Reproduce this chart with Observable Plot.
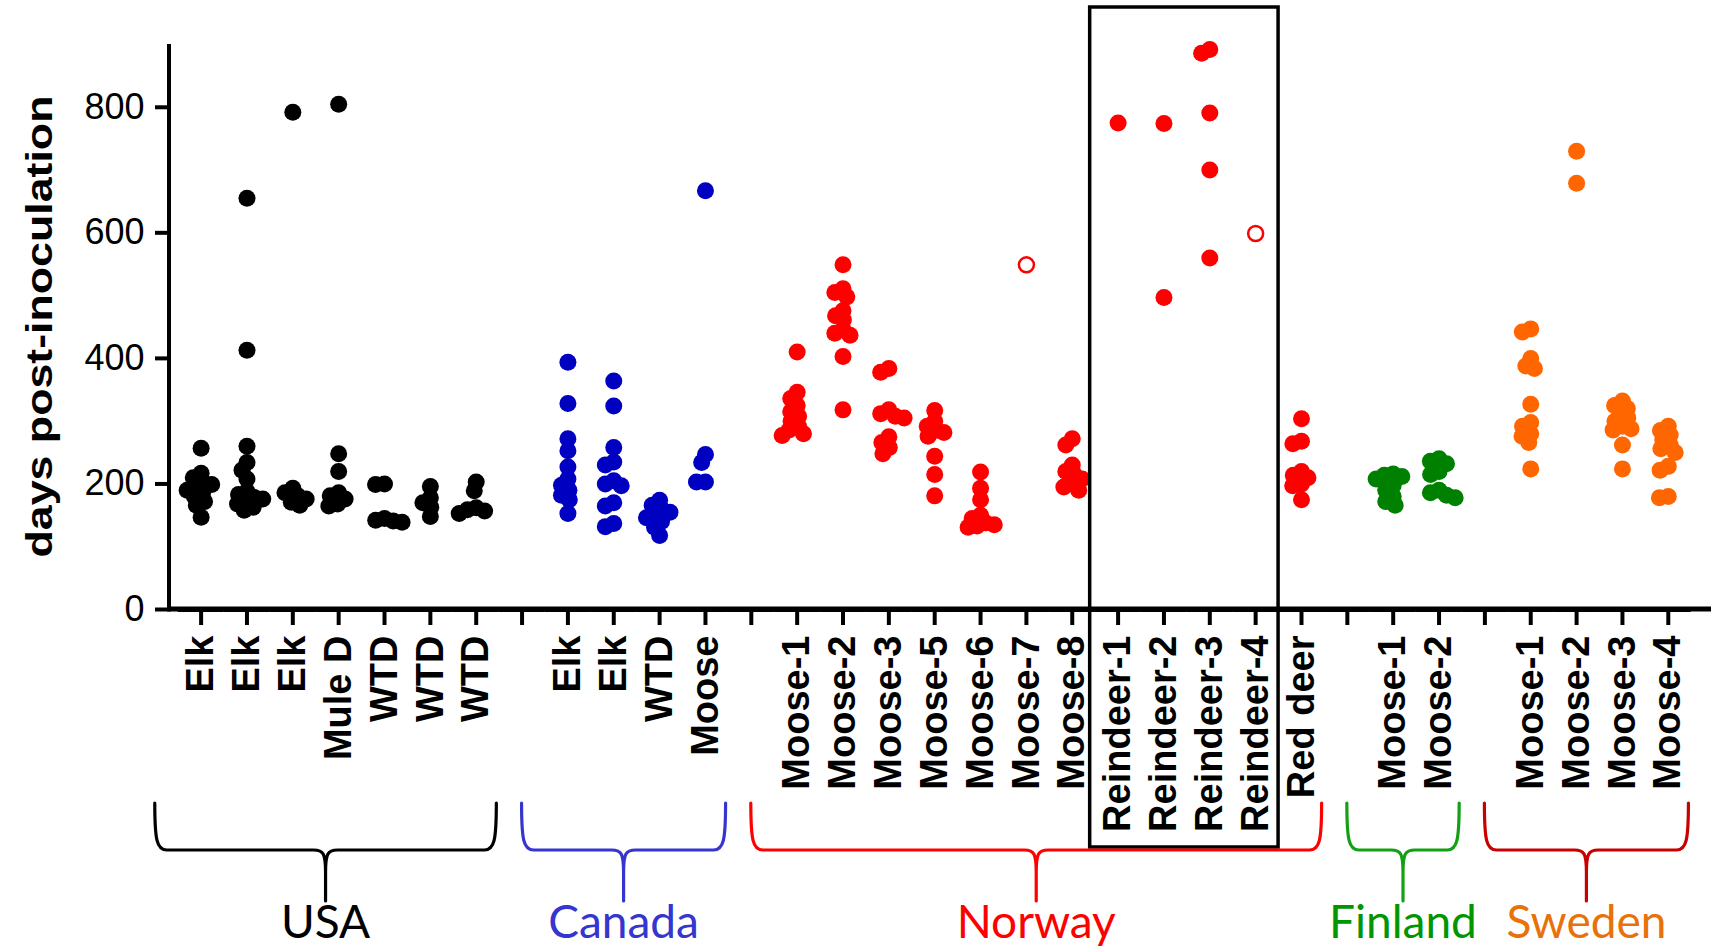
<!DOCTYPE html>
<html><head><meta charset="utf-8">
<script src="https://cdn.jsdelivr.net/npm/d3@7"></script>
<script src="https://cdn.jsdelivr.net/npm/@observablehq/plot@0.6"></script>
<style>
html,body{margin:0;padding:0;background:#fff;}
#chart svg{display:block;overflow:visible;}
#chart g[aria-label^="fx-axis"] text{font-weight:bold;font-size:38px;}
#chart g[aria-label^="y-axis"] text{font-size:36px;}
#chart g[aria-label^="fx-axis"] path, #chart g[aria-label^="fx-axis"] line,
#chart g[aria-label^="y-axis"] path, #chart g[aria-label^="y-axis"] line{stroke-width:4px;stroke:#000;}
</style></head><body><div id="chart"></div>
<script>
// ---------- data ----------
const countries = ["USA", "Canada", "Norway", "Finland", "Sweden"];

const usaLabels = ["Elk", "Elk", "Elk", "Mule D", "WTD", "WTD", "WTD"];
const usaValues = [
  [257, 217, 210, 203, 199, 195, 190, 186, 180, 172, 166, 147],
  [655, 413, 260, 234, 222, 208, 188, 183, 179, 176, 172, 168, 163, 158],
  [792, 193, 186, 181, 176, 171, 166],
  [805, 248, 220, 186, 181, 176, 168, 165],
  [200, 199, 145, 142, 141, 139],
  [196, 178, 170, 163, 148],
  [203, 189, 162, 159, 157, 153]
];

const canadaLabels = ["Elk", "Elk", "WTD", "Moose"];
const canadaValues = [
  [394, 328, 272, 253, 227, 208, 198, 190, 182, 175, 153],
  [364, 324, 258, 235, 230, 205, 200, 197, 170, 165, 137, 132],
  [174, 166, 160, 155, 150, 146, 140, 131, 118],
  [667, 247, 234, 203, 203]
];

const norwayLabels = ["Moose-1", "Moose-2", "Moose-3", "Moose-5", "Moose-6", "Moose-7", "Moose-8",
  "Reindeer-1", "Reindeer-2", "Reindeer-3", "Reindeer-4", "Red deer"];
const norwayValues = [
  [410, 346, 336, 325, 315, 308, 300, 292, 286, 280, 277],
  [549, 511, 505, 498, 476, 468, 461, 446, 440, 437, 403, 318],
  [384, 378, 318, 312, 308, 305, 275, 266, 258, 248],
  [317, 300, 292, 285, 282, 276, 244, 215, 181],
  [219, 193, 175, 150, 145, 138, 135, 133, 131],
  [549],
  [272, 262, 230, 220, 215, 208, 200, 195, 190],
  [775],
  [774, 497],
  [892, 886, 791, 700, 560],
  [599],
  [304, 268, 264, 220, 214, 210, 200, 197, 175]
];
// categories whose single animal is drawn as an open circle
const norwayOpen = ["Moose-7", "Reindeer-4"];
// categories framed by the black box
const boxedLabels = ["Reindeer-1", "Reindeer-2", "Reindeer-3", "Reindeer-4"];

const finlandLabels = ["Moose-1", "Moose-2"];
const finlandValues = [
  [216, 214, 212, 208, 198, 190, 180, 172, 166],
  [240, 236, 232, 220, 215, 190, 186, 182, 178]
];

const swedenLabels = ["Moose-1", "Moose-2", "Moose-3", "Moose-4"];
const swedenValues = [
  [447, 442, 400, 388, 384, 327, 298, 292, 280, 276, 266, 224],
  [730, 679],
  [332, 325, 320, 312, 305, 300, 292, 288, 286, 262, 224],
  [292, 285, 278, 270, 262, 256, 250, 228, 222, 180, 178]
];

const yTicks = [0, 200, 400, 600, 800];
const yLabel = "days post-inoculation";

// ---------- styles ----------
const dotColor = {USA: "#000000", Canada: "#0000C0", Norway: "#FF0000", Finland: "#008000", Sweden: "#FF6600"};
const braceColor = {USA: "#000000", Canada: "#3535D0", Norway: "#FF0000", Finland: "#14A014", Sweden: "#C80000"};
const textColor = {USA: "#000000", Canada: "#3535D0", Norway: "#FF0000", Finland: "#009600", Sweden: "#E8710A"};

// ---------- build table ----------
const groups = [
  {name: "USA", labels: usaLabels, values: usaValues, open: []},
  {name: "Canada", labels: canadaLabels, values: canadaValues, open: []},
  {name: "Norway", labels: norwayLabels, values: norwayValues, open: norwayOpen},
  {name: "Finland", labels: finlandLabels, values: finlandValues, open: []},
  {name: "Sweden", labels: swedenLabels, values: swedenValues, open: []}
];
const slotKeys = [];
const slotLabel = new Map();
const rows = [];
groups.forEach((g, gi) => {
  g.first = `${g.name}-0`;
  g.last = `${g.name}-${g.labels.length - 1}`;
  g.labels.forEach((lab, j) => {
    const key = `${g.name}-${j}`;
    slotKeys.push(key);
    slotLabel.set(key, lab);
    g.values[j].forEach(v => rows.push({slot: key, value: v, country: g.name, label: lab, open: g.open.includes(lab)}));
  });
  if (gi < groups.length - 1) { const k = `gap-${gi}`; slotKeys.push(k); slotLabel.set(k, ""); }
});

// ---------- plot ----------
const W = 1718, H = 950;
const mL = 169, mR = 7, mT = 44, mB = 341;
const padOuter = 0.316, alignFx = 0.3;
// distance from the plot's left margin to the first facet (the y axis is drawn at the left of that facet)
const facetStep = (W - mL - mR) / (slotKeys.length + 2 * padOuter);
const firstFacetOffset = 2 * padOuter * facetStep * alignFx;

const plot = Plot.plot({
  width: W, height: H,
  marginLeft: mL, marginRight: mR, marginTop: mT, marginBottom: mB,
  style: {fontFamily: "'Liberation Sans', Arial, sans-serif", fontSize: "36px", color: "#000", background: "#fff", overflow: "visible"},
  color: {type: "identity"},
  fx: {domain: slotKeys, paddingInner: 0, paddingOuter: padOuter, align: alignFx, round: false, axis: "bottom",
       tickFormat: k => slotLabel.get(k) ?? "", tickRotate: -90, tickSize: 16, tickPadding: 10, label: null},
  y: {domain: [0, 900], label: null},
  marks: [
    Plot.axisY(yTicks, {anchor: "left", facetAnchor: "left", dx: -firstFacetOffset,
      tickSize: 14, tickPadding: 11, strokeWidth: 4, fontSize: 36, label: null}),
    // baseline segment in every slot (also keeps every slot non-empty)
    Plot.ruleY(slotKeys, {fx: d => d, y: 0, stroke: "#000", strokeWidth: 5}),
    Plot.dot(rows.filter(d => !d.open), Plot.dodgeX({anchor: "middle", padding: -8},
      {fx: "slot", y: "value", r: 8.5, fill: d => dotColor[d.country]})),
    Plot.dot(rows.filter(d => d.open), Plot.dodgeX({anchor: "middle"},
      {fx: "slot", y: "value", r: 7.5, fill: "#fff", stroke: d => dotColor[d.country], strokeWidth: 2.5}))
  ]
});
document.getElementById("chart").appendChild(plot);

// ---------- annotations (axis lines, box, braces, country names) ----------
const svgEl = plot.tagName.toLowerCase() === "svg" ? plot : plot.querySelector("svg");
const svg = d3.select(svgEl);
const ys = plot.scale("y");
const y = d3.scaleLinear(ys.domain, ys.range);
const fs = plot.scale("fx");
const fx = d3.scaleBand(fs.domain, fs.range || [mL, W - mR])
  .paddingInner(fs.paddingInner ?? 0).paddingOuter(fs.paddingOuter ?? padOuter).align(fs.align ?? alignFx);
const step = fx.step(), bw = fx.bandwidth();
const cx = k => fx(k) + bw / 2;

const ann = svg.append("g").attr("aria-label", "annotations");
// axis lines
ann.append("line").attr("x1", mL).attr("x2", W - mR).attr("y1", y(0)).attr("y2", y(0))
  .attr("stroke", "#000").attr("stroke-width", 5);
ann.append("line").attr("x1", mL).attr("x2", mL).attr("y1", y(0) + 2.5).attr("y2", y(900))
  .attr("stroke", "#000").attr("stroke-width", 4);
// y label
ann.append("text").attr("transform", `translate(52,${(y(0) + y(900)) / 2}) rotate(-90)`)
  .attr("text-anchor", "middle").attr("font-weight", "bold").attr("font-size", 36)
  .attr("textLength", 462).attr("lengthAdjust", "spacingAndGlyphs").text(yLabel);

// reindeer box
const bFirst = `Norway-${norwayLabels.indexOf(boxedLabels[0])}`;
const bLast = `Norway-${norwayLabels.indexOf(boxedLabels[boxedLabels.length - 1])}`;
const boxTop = 7, boxBottom = 847;
ann.append("rect").attr("x", fx(bFirst) - 5).attr("y", boxTop)
  .attr("width", fx(bLast) + bw - fx(bFirst) + 5).attr("height", boxBottom - boxTop)
  .attr("fill", "none").attr("stroke", "#000").attr("stroke-width", 3.5);

// braces
const yArm = 803, yBar = 850, yTip = 901, yText = 938;
groups.forEach(g => {
  const xL = cx(g.first) - 1.0 * step;
  const xR = cx(g.last) + 0.45 * step;
  const xC = (xL + xR) / 2;
  const r = 12;
  const p = d3.path();
  p.moveTo(xL, yArm);
  p.bezierCurveTo(xL, yBar - 10, xL + 2, yBar, xL + r, yBar);
  p.lineTo(xC - r, yBar);
  p.bezierCurveTo(xC - 2, yBar, xC, yBar + 4, xC, yBar + 22);
  p.lineTo(xC, yTip);
  p.moveTo(xC, yBar + 22);
  p.bezierCurveTo(xC, yBar + 4, xC + 2, yBar, xC + r, yBar);
  p.lineTo(xR - r, yBar);
  p.bezierCurveTo(xR - 2, yBar, xR, yBar - 10, xR, yArm);
  ann.append("path").attr("d", p.toString()).attr("fill", "none")
    .attr("stroke", braceColor[g.name]).attr("stroke-width", 3.2).attr("stroke-linecap", "round");
  ann.append("text").attr("x", xC).attr("y", yText).attr("text-anchor", "middle")
    .attr("font-family", "Lato, 'Open Sans', sans-serif").attr("font-size", 46)
    .attr("fill", textColor[g.name]).text(g.name);
});
</script></body></html>
